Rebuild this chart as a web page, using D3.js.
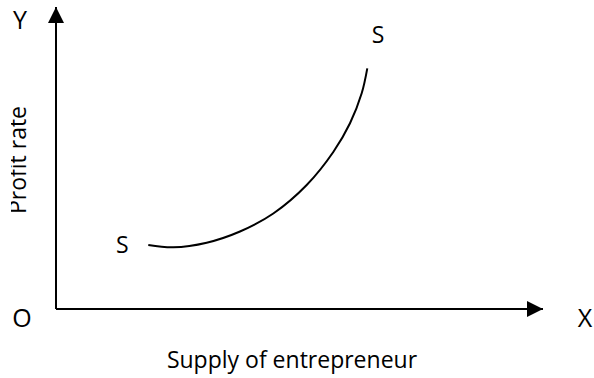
<!DOCTYPE html>
<html>
<head>
<meta charset="utf-8">
<script src="https://cdn.jsdelivr.net/npm/d3@7"></script>
<style>
  body { margin: 0; background: #fff; }
  svg { display: block; }
  text { font-family: "Open Sans", sans-serif; fill: #000; }
</style>
</head>
<body>
<svg width="594" height="378"></svg>
<script>
// supply curve S-S (axis units 0..100)
const supplyX = [18.95, 24.09, 30.94, 37.78, 44.62, 51.48, 56.94, 60.37, 62.77, 63.92]
const supplyY = [21.19, 20.43, 21.95, 25.66, 31.62, 41.06, 51.99, 61.49, 71.42, 79.70]
const axisNames = ['X', 'Y', 'O']
const axisTitles = ['Supply of entrepreneur', 'Profit rate']
const curveLabels = ['S', 'S']

const svg = d3.select('svg')
const W = 594, H = 378

const x = d3.scaleLinear().domain([0, 100]).range([56, 543])
const y = d3.scaleLinear().domain([0, 100]).range([309, 7])

// arrow heads
const defs = svg.append('defs')
defs.append('marker')
  .attr('id', 'arrow')
  .attr('viewBox', '0 0 16 16')
  .attr('refX', 16).attr('refY', 8)
  .attr('markerWidth', 16).attr('markerHeight', 16)
  .attr('markerUnits', 'userSpaceOnUse')
  .attr('orient', 'auto')
  .append('path')
  .attr('d', 'M0,0 L16,8 L0,16 Z')
  .attr('fill', '#000')

defs.append('clipPath').attr('id', 'ttlclip')
  .append('rect').attr('x', 11).attr('y', 0).attr('width', 60).attr('height', H)

// axes, no ticks, just the domain lines
const xAxis = svg.append('g')
  .attr('transform', 'translate(0,' + y(0) + ')')
  .call(d3.axisBottom(x).tickValues([]).tickSizeOuter(0))
const yAxis = svg.append('g')
  .attr('transform', 'translate(' + x(0) + ',0)')
  .call(d3.axisLeft(y).tickValues([]).tickSizeOuter(0))

xAxis.select('.domain')
  .attr('stroke', '#000').attr('stroke-width', 2)
  .attr('d', 'M' + x(0) + ',0H' + x(100))
  .attr('marker-end', 'url(#arrow)')
yAxis.select('.domain')
  .attr('stroke', '#000').attr('stroke-width', 2)
  .attr('d', 'M0,' + y(0) + 'V' + y(100))
  .attr('marker-end', 'url(#arrow)')

// the curve
const pts = supplyX.map((d, i) => [d, supplyY[i]])
const line = d3.line()
  .x(d => x(d[0]))
  .y(d => y(d[1]))
  .curve(d3.curveCatmullRom.alpha(0.5))

svg.append('path')
  .datum(pts)
  .attr('d', line)
  .attr('fill', 'none')
  .attr('stroke', '#000')
  .attr('stroke-width', 2)

// letters
svg.append('text').attr('x', 585).attr('y', 327)
  .attr('text-anchor', 'middle').style('font-size', '25px').text(axisNames[0])
svg.append('text').attr('x', 20).attr('y', 29)
  .attr('text-anchor', 'middle').style('font-size', '25px').text(axisNames[1])
svg.append('text').attr('x', 22).attr('y', 327)
  .attr('text-anchor', 'middle').style('font-size', '25px').text(axisNames[2])

svg.append('text').attr('x', x(supplyX[0]) - 26).attr('y', 253)
  .attr('text-anchor', 'middle').style('font-size', '23px').text(curveLabels[0])
svg.append('text').attr('x', 378).attr('y', 43)
  .attr('text-anchor', 'middle').style('font-size', '23px').text(curveLabels[1])

// titles
svg.append('text').attr('x', 292).attr('y', 368)
  .attr('text-anchor', 'middle').style('font-size', '23px').text(axisTitles[0])

svg.append('g').attr('clip-path', 'url(#ttlclip)')
  .append('text')
  .attr('transform', 'translate(26,160) rotate(-90)')
  .attr('text-anchor', 'middle').style('font-size', '23px').text(axisTitles[1])
</script>
</body>
</html>
